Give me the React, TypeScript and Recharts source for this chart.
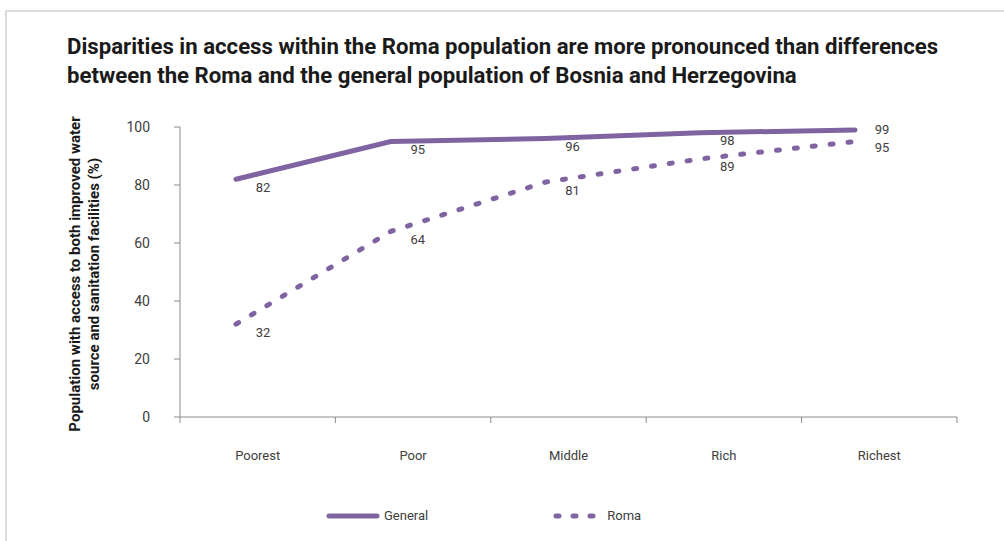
import { LineChart, Line, XAxis, YAxis, Legend, LabelList, Label } from 'recharts';

const categories = ['Poorest', 'Poor', 'Middle', 'Rich', 'Richest'];
const generalValues = [82, 95, 96, 98, 99];
const romaValues = [32, 64, 81, 89, 95];
const yTicks = [0, 20, 40, 60, 80, 100];

const PURPLE = '#8064A2';
const TEXT = '#404040';
const AXIS = '#8c8c8c';
const FONT = 'Roboto, sans-serif';

const data = categories.map((name, i) => ({
  name,
  general: generalValues[i],
  roma: romaValues[i],
}));

// category labels sit in the middle of each band, tick marks on the band edges
function CategoryTick(props: any) {
  const { x, y, payload, index, visibleTicksCount } = props;
  const half = payload?.offset ?? 0;
  return (
    <g>
      <line x1={x - half} x2={x - half} y1={y} y2={y + 6} stroke={AXIS} />
      {index === visibleTicksCount - 1 && (
        <line x1={x + half} x2={x + half} y1={y} y2={y + 6} stroke={AXIS} />
      )}
      <text
        x={x}
        y={y + 38}
        textAnchor="middle"
        dominantBaseline="central"
        fill={TEXT}
        fontSize={13}
        fontFamily={FONT}
      >
        {payload.value}
      </text>
    </g>
  );
}

const pointLabel = (lastDy: number) => (props: any) => {
  const { x, y, value, index } = props;
  const dy = index === categories.length - 1 ? lastDy : 8;
  return (
    <text
      x={x + 27}
      y={y + dy}
      textAnchor="middle"
      dominantBaseline="central"
      fill={TEXT}
      fontSize={13}
      fontFamily={FONT}
    >
      {value}
    </text>
  );
};

function YTitle(props: any) {
  const { viewBox } = props;
  const cx = viewBox.x + 25;
  const cy = viewBox.y + viewBox.height / 2 + 2;
  return (
    <text
      x={cx}
      y={cy}
      transform={`rotate(-90 ${cx} ${cy})`}
      textAnchor="middle"
      fill="#1a1a1a"
      fontSize={15}
      fontWeight="bold"
      fontFamily={FONT}
    >
      <tspan x={cx} dy={-5}>Population with access to both improved water</tspan>
      <tspan x={cx} dy={19}>source and sanitation facilities (%)</tspan>
    </text>
  );
}

function LegendBox(props: any) {
  const items = props.payload || [];
  return (
    <div style={{ display: 'flex', alignItems: 'center', gap: 124 }}>
      {items.map((it: any) => {
        const dotted = it.dataKey === 'roma';
        return (
          <div key={it.value} style={{ display: 'flex', alignItems: 'center' }}>
            <svg width={dotted ? 44 : 54} height={12}>
              <line
                x1={dotted ? 4 : 3}
                x2={dotted ? 42 : 51}
                y1={6}
                y2={6}
                stroke={it.color}
                strokeWidth={5}
                strokeLinecap="round"
                strokeDasharray={dotted ? '3 14' : undefined}
              />
            </svg>
            <span
              style={{
                marginLeft: dotted ? 11 : 4,
                fontSize: 13,
                color: TEXT,
                fontFamily: FONT,
              }}
            >
              {it.value}
            </span>
          </div>
        );
      })}
    </div>
  );
}

export default function App() {
  return (
    <div
      style={{
        position: 'absolute',
        left: 0,
        top: 0,
        width: 1004,
        height: 541,
        background: '#fff',
        overflow: 'hidden',
      }}
    >
      <div
        style={{
          position: 'absolute',
          left: 5,
          top: 10,
          width: 1010,
          height: 540,
          borderTop: '2px solid #dcdcdc',
          borderLeft: '2px solid #dcdcdc',
        }}
      />
      <div
        style={{
          position: 'absolute',
          left: 67,
          top: 32,
          fontFamily: FONT,
          fontWeight: 'bold',
          fontSize: 22.2,
          lineHeight: '29px',
          color: '#1a1a1a',
          whiteSpace: 'nowrap',
        }}
      >
        Disparities in access within the Roma population are more pronounced than differences
        <br />
        between the Roma and the general population of Bosnia and Herzegovina
      </div>
      <LineChart
        width={1004}
        height={541}
        data={data}
        margin={{ top: 127, right: 47, bottom: 123, left: 60 }}
        style={{ position: 'absolute', left: 0, top: 0 }}
      >
        <XAxis
          xAxisId="cat"
          dataKey="name"
          scale="band"
          tickLine={false}
          tickSize={0}
          tickMargin={0}
          height={1}
          axisLine={{ stroke: AXIS }}
          tick={<CategoryTick />}
          interval={0}
        />
        <XAxis
          xAxisId="pts"
          dataKey="name"
          hide
          padding={{ left: 56, right: 102 }}
        />
        <YAxis
          width={120}
          domain={[0, 100]}
          ticks={yTicks}
          interval={0}
          axisLine={{ stroke: AXIS }}
          tickLine={{ stroke: AXIS }}
          tickSize={6}
          tickMargin={24}
          tick={{ fill: TEXT, fontSize: 14, fontFamily: FONT }}
        >
          <Label content={<YTitle />} />
        </YAxis>
        <Legend
          layout="horizontal"
          verticalAlign="middle"
          align="center"
          content={<LegendBox />}
          wrapperStyle={{ top: 508, left: 326, width: 400 }}
        />
        <Line
          xAxisId="pts"
          name="General"
          dataKey="general"
          stroke={PURPLE}
          strokeWidth={5}
          strokeLinecap="round"
          dot={false}
          activeDot={false}
          isAnimationActive={false}
        >
          <LabelList dataKey="general" content={pointLabel(0)} />
        </Line>
        <Line
          xAxisId="pts"
          name="Roma"
          dataKey="roma"
          stroke={PURPLE}
          strokeWidth={5}
          strokeLinecap="round"
          strokeDasharray="3 15"
          dot={false}
          activeDot={false}
          isAnimationActive={false}
        >
          <LabelList dataKey="roma" content={pointLabel(6)} />
        </Line>
      </LineChart>
    </div>
  );
}
